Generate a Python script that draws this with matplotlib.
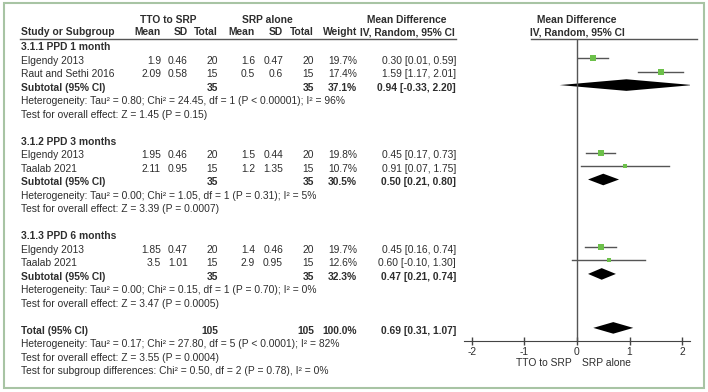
import matplotlib.pyplot as plt
from matplotlib.patches import Rectangle

plt.rcParams['font.family'] = ['Liberation Sans', 'DejaVu Sans']

# data
groups = ["3.1.1 PPD 1 month", "3.1.2 PPD 3 months", "3.1.3 PPD 6 months"]
study_names = ["Elgendy 2013", "Raut and Sethi 2016",
               "Elgendy 2013", "Taalab 2021",
               "Elgendy 2013", "Taalab 2021"]
tto_mean = [1.9, 2.09, 1.95, 2.11, 1.85, 3.5]
tto_sd = [0.46, 0.58, 0.46, 0.95, 0.47, 1.01]
tto_n = [20, 15, 20, 15, 20, 15]
srp_mean = [1.6, 0.5, 1.5, 1.2, 1.4, 2.9]
srp_sd = [0.47, 0.6, 0.44, 1.35, 0.46, 0.95]
srp_n = [20, 15, 20, 15, 20, 15]
weight = [19.7, 17.4, 19.8, 10.7, 19.7, 12.6]
md = [0.30, 1.59, 0.45, 0.91, 0.45, 0.60]
ci_lo = [0.01, 1.17, 0.17, 0.07, 0.16, -0.10]
ci_hi = [0.59, 2.01, 0.73, 1.75, 0.74, 1.30]

sub_tto_n = [35, 35, 35]
sub_srp_n = [35, 35, 35]
sub_weight = [37.1, 30.5, 32.3]
sub_md = [0.94, 0.50, 0.47]
sub_lo = [-0.33, 0.21, 0.21]
sub_hi = [2.20, 0.80, 0.74]
sub_het = ["Heterogeneity: Tau² = 0.80; Chi² = 24.45, df = 1 (P < 0.00001); I² = 96%",
           "Heterogeneity: Tau² = 0.00; Chi² = 1.05, df = 1 (P = 0.31); I² = 5%",
           "Heterogeneity: Tau² = 0.00; Chi² = 0.15, df = 1 (P = 0.70); I² = 0%"]
sub_test = ["Test for overall effect: Z = 1.45 (P = 0.15)",
            "Test for overall effect: Z = 3.39 (P = 0.0007)",
            "Test for overall effect: Z = 3.47 (P = 0.0005)"]

total_tto_n = 105
total_srp_n = 105
total_weight = 100.0
total_md = 0.69
total_lo = 0.31
total_hi = 1.07
total_notes = ["Heterogeneity: Tau² = 0.17; Chi² = 27.80, df = 5 (P < 0.0001); I² = 82%",
               "Test for overall effect: Z = 3.55 (P = 0.0004)",
               "Test for subgroup differences: Chi² = 0.50, df = 2 (P = 0.78), I² = 0%"]

ticks = [-2, -1, 0, 1, 2]

# layout (pixels)
W, H = 708, 392
Y0, DY = 47.3, 13.49
FS = 7.4
TXT = '#2e2e2e'
GREEN = '#6cc04a'


def rowy(r):
    return Y0 + (r - 1) * DY


fig = plt.figure(figsize=(W / 100, H / 100), dpi=100)
bg = fig.add_axes([0, 0, 1, 1])
bg.set_xlim(0, W)
bg.set_ylim(H, 0)
bg.axis('off')

bg.add_patch(Rectangle((4, 3), 700, 385, fill=False, edgecolor='#a8c4a4', lw=1.5))


def put(x, y, s, ha='left', bold=False):
    bg.text(x, y, s, ha=ha, va='center', fontsize=FS, color=TXT,
            fontweight='bold' if bold else 'normal')


# column anchors (right edges)
cx = dict(m1=161, s1=188, n1=218, m2=255, s2=283, n2=314, w=357, ci=456)

# header
h1, h2 = 19.5, 32.3
put(168, h1, "TTO to SRP", ha='center', bold=True)
put(267, h1, "SRP alone", ha='center', bold=True)
put(407, h1, "Mean Difference", ha='center', bold=True)
put(577, h1, "Mean Difference", ha='center', bold=True)
put(21, h2, "Study or Subgroup", bold=True)
for key, lab in [('m1', 'Mean'), ('s1', 'SD'), ('n1', 'Total'), ('m2', 'Mean'),
                 ('s2', 'SD'), ('n2', 'Total'), ('w', 'Weight')]:
    put(cx[key], h2, lab, ha='right', bold=True)
put(407, h2, "IV, Random, 95% CI", ha='center', bold=True)
put(577, h2, "IV, Random, 95% CI", ha='center', bold=True)
bg.plot([20, 456], [38.5, 38.5], color='#555555', lw=1)
bg.plot([531, 697], [38.5, 38.5], color='#555555', lw=1)

# forest axes: x from -2.15 to 2.15, rows on y
ax = fig.add_axes([464 / W, (H - 341) / H, 226 / W, (341 - 38.5) / H])
ax.set_xlim(-2.15, 2.15)
ax.set_ylim(1 + (341 - Y0) / DY, 1 + (38.5 - Y0) / DY)
ax.patch.set_alpha(0)
for s in ['top', 'left', 'right']:
    ax.spines[s].set_visible(False)
ax.spines['bottom'].set_color('#444444')
ax.set_yticks([])
ax.set_xticks(ticks)
ax.set_xticklabels([str(t) for t in ticks])
ax.tick_params(axis='x', direction='inout', length=6, width=1, color='#444444',
               labelsize=FS, labelcolor=TXT, pad=1)
ax.axvline(0, color='#555555', lw=1)

off = -0.2


def diamond(r, est, lo, hi, h=0.43):
    ax.fill([lo, est, hi, est], [r + off, r + off - h, r + off, r + off + h],
            color='black', lw=0)


for g in range(3):
    r0 = 1 + 7 * g
    put(21, rowy(r0), groups[g], bold=True)
    for k in range(2):
        i = 2 * g + k
        r = r0 + 1 + k
        y = rowy(r)
        put(21, y, study_names[i])
        put(cx['m1'], y, f"{tto_mean[i]:g}", ha='right')
        put(cx['s1'], y, f"{tto_sd[i]:g}", ha='right')
        put(cx['n1'], y, f"{tto_n[i]}", ha='right')
        put(cx['m2'], y, f"{srp_mean[i]:g}", ha='right')
        put(cx['s2'], y, f"{srp_sd[i]:g}", ha='right')
        put(cx['n2'], y, f"{srp_n[i]}", ha='right')
        put(cx['w'], y, f"{weight[i]:.1f}%", ha='right')
        put(cx['ci'], y, f"{md[i]:.2f} [{ci_lo[i]:.2f}, {ci_hi[i]:.2f}]", ha='right')
        ax.plot([ci_lo[i], ci_hi[i]], [r + off, r + off], color='#555555', lw=1)
        ax.plot(md[i], r + off, 's', color=GREEN, ms=0.95 * weight[i] ** 0.5, mew=0)
    r = r0 + 3
    y = rowy(r)
    put(21, y, "Subtotal (95% CI)", bold=True)
    put(cx['n1'], y, f"{sub_tto_n[g]}", ha='right', bold=True)
    put(cx['n2'], y, f"{sub_srp_n[g]}", ha='right', bold=True)
    put(cx['w'], y, f"{sub_weight[g]:.1f}%", ha='right', bold=True)
    put(cx['ci'], y, f"{sub_md[g]:.2f} [{sub_lo[g]:.2f}, {sub_hi[g]:.2f}]", ha='right', bold=True)
    diamond(r, sub_md[g], sub_lo[g], sub_hi[g])
    put(21, rowy(r0 + 4), sub_het[g])
    put(21, rowy(r0 + 5), sub_test[g])

r = 22
y = rowy(r)
put(21, y, "Total (95% CI)", bold=True)
put(cx['n1'], y, f"{total_tto_n}", ha='right', bold=True)
put(cx['n2'], y, f"{total_srp_n}", ha='right', bold=True)
put(cx['w'], y, f"{total_weight:.1f}%", ha='right', bold=True)
put(cx['ci'], y, f"{total_md:.2f} [{total_lo:.2f}, {total_hi:.2f}]", ha='right', bold=True)
diamond(r, total_md, total_lo, total_hi)
for k, s in enumerate(total_notes):
    put(21, rowy(23 + k), s)

# favours labels under the axis
put(572, 363, "TTO to SRP", ha='right')
put(582, 363, "SRP alone")

fig.savefig("out.png", dpi=100)
